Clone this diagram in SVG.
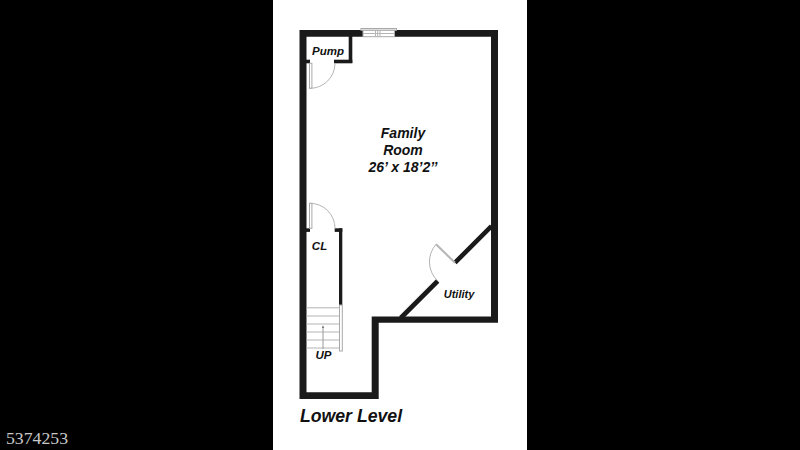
<svg xmlns="http://www.w3.org/2000/svg" width="800" height="450" viewBox="0 0 800 450">
<style>
.w{fill:#1a1a1a}
.d{fill:none;stroke:#1a1a1a;stroke-width:4.6}
.g{fill:none;stroke:#b4b4b4;stroke-width:1}
.l{fill:#fff;stroke:#a8a8a8;stroke-width:1}
.t{font-family:"Liberation Sans",Arial,sans-serif;font-weight:700;font-style:italic;fill:#111;text-anchor:middle}
</style>
<rect width="800" height="450" fill="#000"/>
<rect x="273" y="0" width="254" height="450" fill="#fff"/>
<g id="walls">
<path class="w" d="M299.5 30H363V36.7H306.5V392.3H371.7V316.5H491V36.7H395V30H498V322.7H378.7V399H299.5Z"/>
<rect class="w" x="348.7" y="36" width="3.6" height="27"/>
<rect class="w" x="334" y="59.7" width="18.3" height="3.6"/>
<rect class="w" x="306" y="59.7" width="4" height="3.6"/>
<rect class="w" x="306" y="228.3" width="4" height="3.6"/>
<rect class="w" x="334.7" y="228.3" width="7.6" height="3.6"/>
<rect class="w" x="339" y="228.3" width="3.3" height="77"/>
<path class="d" d="M400.7 318L437.7 281M455 262.7L491.5 226.2"/>
</g>
<g id="window">
<rect class="l" x="361" y="28.5" width="35.5" height="1.8"/>
<rect class="l" x="363" y="30.3" width="31.5" height="6.4"/>
<path class="g" d="M363 33.5H394.5M375.5 30.3V36.7M380 30.3V36.7M377.7 30.3V36.7"/>
</g>
<g id="doors">
<rect class="l" x="309.5" y="63.3" width="2.4" height="25"/>
<path class="g" d="M310 88.3A25 25 0 0 0 335 63.3"/>
<rect class="l" x="309.5" y="203.3" width="2.4" height="25"/>
<path class="g" d="M310 203.3A25 25 0 0 1 335 228.3"/>
<path d="M455 262.7L436 244.3" fill="none" stroke="#b4b4b4" stroke-width="2"/>
<path class="g" d="M436 244.3A26.5 26.5 0 0 0 437.7 281"/>
</g>
<g id="stairs">
<path class="g" d="M306.5 307.8H339.5M306.5 316H339.5M306.5 324H339.5M306.5 332H339.5M306.5 340H339.5M306.5 348H339.5"/>
<rect class="l" x="339.5" y="305" width="2.8" height="46"/>
<path d="M323 326V349" fill="none" stroke="#999" stroke-width="1"/>
<path d="M321.8 328L323 325.5L324.2 328Z" fill="#777"/>
</g>
<g id="labels">
<text class="t" x="328" y="55" font-size="11.5">Pump</text>
<text class="t" x="403" y="138" font-size="14">Family</text>
<text class="t" x="403" y="155" font-size="14">Room</text>
<text class="t" x="403" y="172" font-size="14">26’ x 18’2’’</text>
<text class="t" x="319.5" y="249.5" font-size="11.5">CL</text>
<text class="t" x="459" y="298" font-size="11">Utility</text>
<text class="t" x="323.5" y="359" font-size="11.5">UP</text>
<text class="t" x="351" y="422" font-size="17.7">Lower Level</text>
</g>
<text x="6" y="444" font-family="'Liberation Serif',serif" font-size="16" fill="#c8c8c8" textLength="62" lengthAdjust="spacingAndGlyphs">5374253</text>
</svg>
